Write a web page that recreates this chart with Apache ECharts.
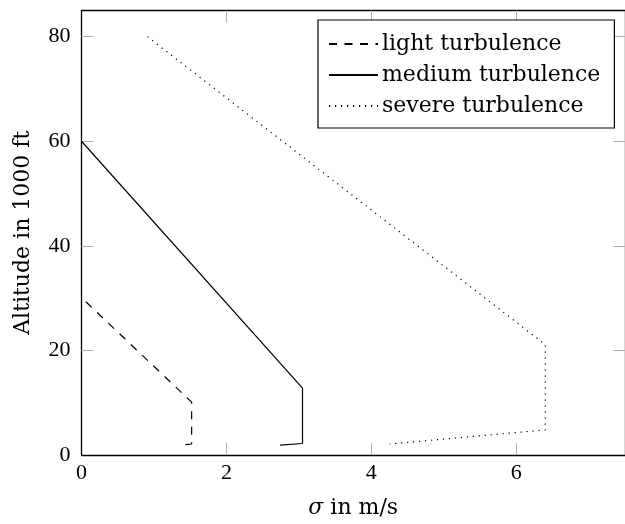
<!DOCTYPE html>
<html>
<head>
<meta charset="utf-8">
<script src="https://cdn.jsdelivr.net/npm/echarts@6/dist/echarts.min.js"></script>
<style>
html,body{margin:0;padding:0;background:#fff;}
#chart{width:625px;height:524px;}
</style>
</head>
<body>
<div id="chart"></div>
<script>
// Data (sigma in m/s, altitude in 1000 ft)
const lightSigma  = [0.06, 1.52, 1.52, 1.36];
const lightAlt    = [29.3, 10.1, 2.1, 1.9];
const mediumSigma = [0.0, 3.05, 3.05, 2.74];
const mediumAlt   = [60.0, 12.8, 2.2, 1.9];
const severeSigma = [0.91, 6.40, 6.40, 4.25];
const severeAlt   = [80.0, 21.1, 4.8, 2.1];
const seriesNames = ['light turbulence', 'medium turbulence', 'severe turbulence'];
const xTicks = [0, 2, 4, 6];
const yTicks = [0, 20, 40, 60, 80];
const xTitle = 'σ';
const xTitleRest = ' in m/s';
const yTitle = 'Altitude in 1000 ft';

function pairs(xs, ys) { return xs.map((x, i) => [x, ys[i]]); }

const tickFont = 'Liberation Serif';
const textFont = 'DejaVu Serif';
const X_MIN = 0, X_MAX = 7.5, Y_MIN = 0, Y_MAX = 85;
const xTickMarks = xTicks.filter(v => v !== X_MIN);
const yTickMarks = yTicks.filter(v => v !== Y_MIN);

const baseTick = { show: true, inside: true, length: 12, lineStyle: { color: '#b0b0b0', width: 1 } };
const baseLine = { show: true, onZero: false, lineStyle: { color: '#000', width: 1.3 } };

const chart = echarts.init(document.getElementById('chart'), null, { renderer: 'canvas' });
chart.setOption({
  animation: false,
  backgroundColor: '#fff',
  grid: { left: 81.5, right: -6, top: 10.5, bottom: 67, containLabel: false },
  legend: {
    data: seriesNames,
    orient: 'vertical',
    left: 318, top: 20,
    padding: [12, 14, 10, 10],
    itemWidth: 49, itemHeight: 14, itemGap: 7,
    itemStyle: { opacity: 0, borderWidth: 0 },
    backgroundColor: '#fff', borderColor: '#000', borderWidth: 1.2,
    textStyle: { fontFamily: textFont, fontSize: 22, color: '#000', lineHeight: 24, padding: [0,0,0,-1] }
  },
  xAxis: [
    { type: 'value', position: 'bottom', min: X_MIN, max: X_MAX,
      axisLine: baseLine, splitLine: { show: false },
      axisTick: Object.assign({}, baseTick, { customValues: xTickMarks }),
      axisLabel: { customValues: xTicks, fontFamily: tickFont, fontSize: 22, color: '#000', margin: 7 },
      name: '{i|' + xTitle + '}' + xTitleRest, nameLocation: 'middle', nameGap: 42,
      nameTextStyle: { fontFamily: textFont, fontSize: 22, color: '#000',
        rich: { i: { fontFamily: textFont, fontStyle: 'italic', fontSize: 22, color: '#000' } } }
    },
    { type: 'value', position: 'top', min: X_MIN, max: X_MAX,
      axisLine: baseLine, splitLine: { show: false },
      axisTick: Object.assign({}, baseTick, { customValues: xTickMarks }),
      axisLabel: { show: false } }
  ],
  yAxis: [
    { type: 'value', position: 'left', min: Y_MIN, max: Y_MAX,
      axisLine: baseLine, splitLine: { show: false },
      axisTick: Object.assign({}, baseTick, { customValues: yTickMarks }),
      axisLabel: { customValues: yTicks, fontFamily: tickFont, fontSize: 22, color: '#000', margin: 11 },
      name: yTitle, nameLocation: 'middle', nameGap: 47, nameRotate: 90,
      nameTextStyle: { fontFamily: textFont, fontSize: 22, color: '#000' }
    },
    { type: 'value', position: 'right', min: Y_MIN, max: Y_MAX,
      axisLine: baseLine, splitLine: { show: false },
      axisTick: Object.assign({}, baseTick, { customValues: yTickMarks }),
      axisLabel: { show: false } }
  ],
  series: [
    { name: seriesNames[0], type: 'line', data: pairs(lightSigma, lightAlt), symbol: 'none',
      lineStyle: { color: '#000', width: 1.2, type: [8, 7.5] }, itemStyle: { color: '#000' } },
    { name: seriesNames[1], type: 'line', data: pairs(mediumSigma, mediumAlt), symbol: 'none',
      lineStyle: { color: '#000', width: 1.2, type: 'solid' }, itemStyle: { color: '#000' } },
    { name: seriesNames[2], type: 'line', data: pairs(severeSigma, severeAlt), symbol: 'none',
      lineStyle: { color: '#000', width: 1.2, type: [1.2, 4.8] }, itemStyle: { color: '#000' } }
  ]
});
</script>
</body>
</html>
